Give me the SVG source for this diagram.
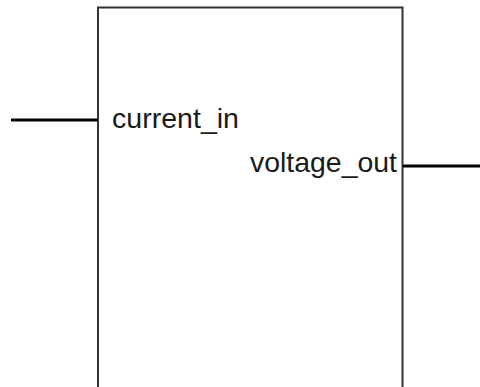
<svg xmlns="http://www.w3.org/2000/svg" width="480" height="387" viewBox="0 0 480 387">
<style>
.box{fill:#fff;stroke:#333;stroke-width:2}
.wire{stroke:#000;stroke-width:3;fill:none}
.lbl{font-family:"Liberation Sans",Arial,sans-serif;font-size:28px;fill:#1a1a1a}
</style>
<rect width="480" height="387" fill="#fff"/>
<g id="block">
<path class="box" d="M98,400 V7.5 H402.5 V400"/>
<text class="lbl" x="112" y="128" textLength="127" lengthAdjust="spacingAndGlyphs">current_in</text>
<text class="lbl" x="397" y="172" text-anchor="end" textLength="147" lengthAdjust="spacingAndGlyphs">voltage_out</text>
</g>
<g id="connectors">
<line class="wire" x1="11" y1="120" x2="98" y2="120"/>
<line class="wire" x1="403" y1="166" x2="480" y2="166"/>
</g>
</svg>
